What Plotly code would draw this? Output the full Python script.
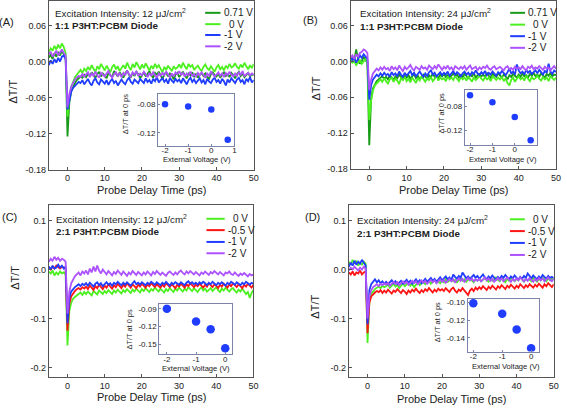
import numpy as np
import plotly.graph_objects as go

W, H = 567, 412
FONT = "Liberation Sans, Arial, sans-serif"

def px(x):
    return x / W

def py(y):
    return 1 - y / H

# ---------------- data ----------------
# probe delay time (ps)
T = np.arange(-5, 50.01, 0.5)

# Delta T / T values, in units of 1e-3
# Panel A : 1:1 diode, 12 uJ/cm2
A_071 = [6, 12, 4, 14, 8, 16, 10, 18, 12, 6,
         -125, -68, -50, -42, -36, -31, -28, -25, -27, -22,
         -26, -20, -24, -18, -23, -27, -21, -17, -25, -20,
         -24, -28, -19, -22, -26, -16, -21, -25, -18, -23,
         -27, -20, -15, -22, -26, -19, -24, -17, -21, -28,
         -22, -18, -25, -20, -16, -23, -27, -19, -22, -17,
         -24, -29, -21, -18, -25, -20, -23, -30, -22, -19,
         -26, -21, -17, -24, -28, -20, -23, -18, -25, -21,
         -27, -22, -19, -24, -20, -26, -29, -21, -18, -23,
         -25, -20, -27, -22, -18, -24, -21, -26, -19, -23,
         -28, -21, -17, -24, -20, -26, -22, -19, -25, -21, -23]
A_0 = [16, 22, 18, 26, 20, 28, 22, 30, 24, 14,
       -92, -58, -42, -32, -26, -22, -18, -14, -19, -12,
       -16, -9, -14, -6, -12, -17, -8, -13, -4, -10,
       -15, -7, -12, -18, -9, -5, -13, -8, -16, -11,
       -6, -12, -2, -9, -14, -4, -10, -1, -8, -13,
       -5, -11, -3, -9, -15, -7, -12, -4, -10, -6,
       -13, -18, -9, -14, -7, -11, -16, -8, -12, -10,
       -5, -11, -2, -8, -13, -4, -9, -6, -14, -10,
       -7, -12, -16, -9, -5, -11, -14, -8, -12, -17,
       -10, -6, -13, -9, -15, -7, -11, -4, -10, -8,
       -3, -9, -12, -5, -10, -2, -8, -13, -6, -11, -4]
A_m1 = [-6, 2, -4, 4, -2, 6, 0, 8, 10, 4,
        -80, -62, -50, -44, -40, -37, -34, -36, -31, -38,
        -33, -29, -36, -40, -32, -28, -35, -38, -30, -34,
        -37, -31, -39, -33, -29, -36, -32, -40, -34, -30,
        -35, -38, -31, -27, -34, -37, -30, -33, -36, -29,
        -32, -36, -28, -34, -31, -37, -29, -33, -26, -35,
        -31, -28, -34, -30, -37, -27, -32, -35, -29, -33,
        -30, -36, -28, -33, -38, -31, -27, -34, -30, -36,
        -32, -28, -35, -31, -38, -29, -33, -36, -30, -27,
        -34, -31, -37, -29, -33, -40, -30, -35, -28, -32,
        -36, -30, -27, -34, -31, -38, -29, -33, -26, -35, -31]
A_m2 = [12, 16, 8, 14, 18, 10, 15, 20, 14, 10,
        -76, -54, -42, -35, -30, -27, -24, -26, -21, -25,
        -22, -18, -26, -20, -24, -17, -23, -27, -19, -22,
        -25, -20, -16, -23, -27, -21, -18, -24, -20, -26,
        -19, -23, -15, -21, -25, -18, -22, -16, -24, -20,
        -23, -17, -21, -26, -19, -24, -18, -22, -27, -20,
        -24, -19, -23, -17, -22, -26, -20, -25, -18, -21,
        -16, -22, -19, -25, -20, -23, -17, -24, -21, -26,
        -19, -23, -18, -22, -27, -20, -24, -17, -21, -25,
        -22, -18, -24, -20, -26, -19, -23, -17, -22, -25,
        -20, -24, -18, -22, -16, -25, -21, -19, -23, -20, -22]

# Panel B : 1:1 diode, 24 uJ/cm2
B_071 = [-2, 6, 2, 20, 4, -4, 0, 8, 2, -2,
         -140, -62, -45, -38, -33, -30, -28, -25, -29, -26,
         -30, -24, -27, -31, -25, -28, -22, -26, -30, -24,
         -27, -23, -29, -25, -21, -28, -24, -30, -26, -22,
         -25, -29, -23, -27, -20, -26, -24, -28, -22, -25,
         -21, -26, -23, -28, -24, -20, -25, -22, -27, -23,
         -26, -21, -24, -29, -22, -25, -20, -27, -23, -21,
         -25, -22, -26, -19, -24, -28, -21, -23, -26, -20,
         -24, -27, -22, -25, -30, -23, -26, -21, -24, -27,
         -22, -26, -20, -25, -23, -27, -21, -24, -19, -25,
         -22, -26, -20, -23, -27, -21, -24, -19, -25, -22, -23]
B_0 = [4, -2, 0, -6, -2, 2, -4, 0, 4, -2,
       -98, -66, -48, -40, -36, -32, -30, -34, -28, -33,
       -37, -30, -27, -34, -29, -32, -38, -28, -31, -26,
       -33, -29, -35, -27, -31, -36, -28, -32, -25, -30,
       -34, -28, -31, -26, -33, -29, -24, -32, -27, -30,
       -28, -33, -25, -30, -27, -31, -24, -29, -33, -26,
       -30, -27, -32, -25, -29, -34, -26, -31, -28, -24,
       -29, -32, -26, -30, -27, -33, -25, -28, -31, -27,
       -30, -26, -33, -28, -36, -40, -31, -27, -34, -29,
       -25, -30, -27, -32, -24, -29, -33, -26, -30, -28,
       -24, -29, -32, -26, -30, -27, -33, -25, -28, -31, -27]
B_m1 = [8, 2, 6, -2, 4, 10, 6, 12, 8, 4,
        -64, -40, -30, -26, -22, -25, -20, -24, -19, -23,
        -21, -26, -18, -23, -20, -25, -17, -22, -26, -19,
        -24, -20, -16, -23, -19, -25, -21, -17, -22, -26,
        -20, -24, -18, -15, -22, -19, -25, -21, -18, -23,
        -19, -22, -17, -24, -20, -16, -23, -18, -21, -25,
        -20, -17, -22, -19, -24, -18, -21, -15, -20, -23,
        -18, -21, -16, -23, -19, -22, -17, -20, -24, -18,
        -21, -16, -19, -23, -18, -12, -20, -17, -22, -5,
        -15, -20, -17, -22, -14, -19, -16, -21, -18, -15,
        -20, -14, -18, -22, -16, -19, -4, -17, -21, -15, -18]
B_m2 = [6, 10, 4, 12, 8, 14, 16, 20, 18, 14,
        -48, -30, -20, -16, -12, -15, -10, -14, -9, -13,
        -11, -16, -8, -13, -10, -15, -7, -12, -16, -9,
        -13, -10, -6, -12, -15, -9, -11, -14, -8, -12,
        -10, -14, -7, -11, -13, -8, -12, -5, -10, -14,
        -9, -12, -7, -13, -10, -15, -8, -11, -13, -9,
        -12, -8, -14, -10, -7, -13, -11, -9, -15, -10,
        -13, -9, -11, -7, -12, -14, -10, -8, -13, -11,
        -9, -12, -15, -10, -8, -13, -11, -14, -9, -12,
        -10, -13, -8, -12, -15, -9, -11, -7, -13, -10,
        -12, -8, -11, -14, -9, -12, -10, -15, -11, -8, -12]

# Panel C : 2:1 diode, 12 uJ/cm2
C_0 = [-4, -8, -2, -12, -6, -10, -4, -8, -6, -10,
       -155, -85, -68, -60, -56, -52, -50, -47, -52, -46,
       -50, -45, -49, -53, -44, -48, -51, -43, -47, -50,
       -44, -48, -42, -46, -50, -43, -47, -41, -45, -49,
       -42, -46, -40, -44, -48, -41, -45, -39, -43, -47,
       -40, -44, -38, -42, -46, -40, -43, -37, -41, -45,
       -39, -43, -47, -40, -44, -38, -42, -46, -39, -43,
       -37, -41, -45, -39, -43, -36, -40, -44, -38, -42,
       -46, -40, -37, -43, -39, -45, -41, -38, -44, -40,
       -36, -42, -46, -39, -43, -37, -41, -45, -40, -38,
       -43, -47, -41, -45, -39, -44, -50, -46, -58, -48, -42]
C_m05 = [4, 0, 6, 2, 8, 4, 2, 6, 4, 2,
         -125, -70, -55, -48, -44, -40, -38, -41, -36, -39,
         -35, -40, -33, -37, -42, -34, -38, -31, -36, -40,
         -33, -37, -30, -35, -39, -32, -36, -29, -34, -38,
         -31, -35, -28, -33, -37, -30, -34, -38, -31, -35,
         -29, -33, -37, -30, -34, -28, -32, -36, -30, -33,
         -37, -31, -35, -28, -32, -36, -30, -34, -38, -31,
         -35, -29, -33, -37, -30, -34, -28, -32, -36, -31,
         -34, -29, -33, -37, -31, -35, -28, -32, -36, -30,
         -33, -38, -31, -35, -29, -33, -37, -30, -34, -28,
         -32, -36, -30, -34, -38, -31, -35, -29, -33, -37, -31]
C_m1 = [6, 0, 8, 2, 4, 10, 4, 8, 2, 6,
        -110, -58, -45, -40, -36, -33, -30, -34, -29, -32,
        -28, -33, -27, -31, -35, -29, -26, -32, -28, -34,
        -30, -26, -31, -28, -33, -27, -30, -25, -29, -32,
        -27, -31, -26, -29, -33, -28, -24, -30, -27, -31,
        -26, -29, -32, -27, -30, -25, -28, -31, -26, -29,
        -32, -27, -30, -25, -29, -33, -27, -30, -26, -28,
        -31, -26, -29, -32, -27, -24, -29, -26, -30, -27,
        -31, -26, -29, -25, -28, -32, -27, -30, -25, -29,
        -32, -27, -30, -26, -29, -33, -27, -30, -25, -28,
        -31, -26, -29, -32, -27, -30, -25, -28, -31, -27, -29]
C_m2 = [16, 22, 18, 26, 20, 24, 18, 22, 20, 16,
        -90, -45, -28, -20, -14, -10, -6, -12, -4, -8,
        -2, -10, 2, -6, 6, -4, 8, -2, -8, 0,
        -6, -10, -3, -8, -12, -5, -9, -2, -7, -11,
        -4, -8, -13, -6, -10, -3, -7, -11, -5, -9,
        -12, -6, -10, -4, -8, -12, -5, -9, -3, -7,
        -11, -6, -9, -13, -7, -4, -8, -11, -6, -10,
        -5, -2, -7, -10, -4, -8, -3, -6, -10, -5,
        -8, -12, -6, -9, -4, -7, -11, -5, -8, -3,
        -7, -10, -5, -9, -12, -6, -8, -4, -9, -11,
        -6, -10, -13, -8, -11, -7, -10, -14, -9, -12, -10]

# Panel D : 2:1 diode, 24 uJ/cm2
D_0 = [16, 10, 20, 12, 18, 8, 14, 10, 16, 12,
       -150, -65, -50, -44, -40, -37, -35, -38, -33, -36,
       -34, -30, -37, -33, -29, -35, -31, -38, -32, -28,
       -34, -30, -27, -33, -29, -36, -30, -26, -32, -28,
       -25, -30, -27, -23, -29, -25, -21, -27, -24, -28,
       -22, -26, -20, -25, -23, -19, -24, -21, -26, -22,
       -18, -23, -20, -25, -21, -17, -22, -26, -20, -23,
       -19, -24, -21, -17, -22, -25, -19, -23, -20, -16,
       -21, -24, -18, -22, -26, -19, -23, -17, -21, -24,
       -19, -22, -16, -21, -25, -18, -22, -20, -24, -17,
       -21, -25, -19, -22, -16, -20, -24, -18, -22, -19, -21]
D_m05 = [-6, -10, -4, -12, -6, -8, -2, -10, -6, -4,
         -130, -68, -55, -50, -47, -44, -46, -42, -48, -43,
         -47, -41, -45, -49, -43, -46, -40, -44, -48, -42,
         -45, -50, -43, -47, -41, -45, -39, -44, -48, -42,
         -46, -40, -44, -38, -43, -47, -41, -45, -39, -43,
         -40, -44, -38, -42, -46, -40, -37, -43, -47, -41,
         -44, -38, -42, -48, -52, -43, -39, -44, -37, -41,
         -36, -40, -34, -38, -42, -35, -39, -33, -37, -41,
         -34, -38, -32, -36, -40, -33, -37, -31, -35, -39,
         -33, -37, -30, -35, -38, -32, -36, -30, -34, -37,
         -31, -35, -29, -33, -37, -30, -34, -28, -32, -36, -30]
D_m1 = [6, 14, 8, 18, 10, 16, 12, 20, 14, 8,
        -112, -42, -30, -24, -20, -26, -22, -28, -24, -29,
        -25, -30, -26, -22, -28, -24, -30, -27, -23, -29,
        -25, -21, -27, -23, -29, -24, -20, -26, -22, -28,
        -23, -19, -25, -21, -17, -23, -19, -25, -20, -16,
        -22, -18, -14, -20, -16, -22, -10, -15, -19, -13,
        -17, -6, -12, -18, -14, -20, -15, -11, -17, -13,
        -19, -15, -10, -16, -20, -14, -18, -12, -17, -21,
        -15, -19, -13, -17, -11, -16, -20, -14, -18, -12,
        -16, -21, -15, -19, -13, -17, -8, -14, -18, -12,
        -16, -20, -14, -18, -11, -15, -19, -13, -17, -15, -18]
D_m2 = [-2, 4, 0, 6, 2, -2, 4, 0, 6, 2,
        -100, -55, -42, -36, -33, -30, -34, -29, -32, -28,
        -31, -27, -33, -29, -25, -30, -26, -32, -28, -24,
        -29, -25, -31, -27, -23, -28, -24, -30, -26, -22,
        -27, -23, -29, -25, -21, -26, -22, -28, -24, -20,
        -25, -21, -27, -23, -19, -24, -20, -26, -22, -18,
        -23, -19, -25, -21, -17, -22, -18, -24, -20, -23,
        -19, -24, -20, -16, -22, -18, -23, -19, -25, -21,
        -17, -22, -18, -24, -20, -16, -21, -25, -19, -23,
        -18, -22, -16, -21, -24, -19, -23, -17, -21, -25,
        -19, -23, -17, -22, -18, -24, -20, -16, -21, -24, -19]

# insets: Delta T/T at 0 ps vs external voltage
V_AB = [-2, -1, 0, 0.71]
INS_A = [-0.0800, -0.0831, -0.0872, -0.1293]
INS_B = [-0.0619, -0.0734, -0.0981, -0.1370]
V_CD = [-2, -1, -0.5, 0]
INS_C = [-0.0900, -0.1117, -0.1245, -0.1570]
INS_D = [-0.1008, -0.1128, -0.1307, -0.1519]

LEG_AB = ["0.71 V", " 0 V", "-1 V", "-2 V"]
LEG_CD = [" 0 V", "-0.5 V", "-1 V", "-2 V"]

C_DKGREEN = "#179a17"
C_GREEN = "#4cf020"
C_RED = "#ff1414"
C_BLUE = "#1f3cff"
C_PURPLE = "#ad52ff"

# ---------------- figure ----------------
fig = go.Figure()

panels = [
    ("x", "y", [A_071, A_0, A_m1, A_m2], [C_DKGREEN, C_GREEN, C_BLUE, C_PURPLE], LEG_AB),
    ("x2", "y2", [B_071, B_0, B_m1, B_m2], [C_DKGREEN, C_GREEN, C_BLUE, C_PURPLE], LEG_AB),
    ("x3", "y3", [C_0, C_m05, C_m1, C_m2], [C_GREEN, C_RED, C_BLUE, C_PURPLE], LEG_CD),
    ("x4", "y4", [D_0, D_m05, D_m1, D_m2], [C_GREEN, C_RED, C_BLUE, C_PURPLE], LEG_CD),
]
for xa, ya, series, cols, names in panels:
    for s, c, n in zip(series, cols, names):
        yv = np.array(s, dtype=float) / 1000.0
        fig.add_trace(go.Scatter(x=T[:len(yv)], y=yv, mode="lines", name=n.strip(),
                                 line=dict(color=c, width=1.8), xaxis=xa, yaxis=ya,
                                 showlegend=False, hoverinfo="skip"))

insets = [("x5", "y5", V_AB, INS_A, 6.5), ("x6", "y6", V_AB, INS_B, 6.5),
          ("x7", "y7", V_CD, INS_C, 8.5), ("x8", "y8", V_CD, INS_D, 8.5)]
for xa, ya, xv, yv, ms in insets:
    fig.add_trace(go.Scatter(x=xv, y=yv, mode="markers", xaxis=xa, yaxis=ya,
                             marker=dict(color=C_BLUE, size=ms), showlegend=False,
                             hoverinfo="skip"))

FRAME = "#555555"
IFRAME = "#7c83a8"

def main_x(domain, anchor):
    return dict(domain=domain, anchor=anchor, range=[-5, 50],
                tickvals=[0, 10, 20, 30, 40, 50], ticktext=["0", "10", "20", "30", "40", "50"],
                showline=True, mirror=True, linecolor=FRAME, linewidth=1,
                ticks="inside", ticklen=3, tickcolor=FRAME, showgrid=False, zeroline=False,
                tickfont=dict(size=9, family=FONT, color="#222"))

def main_y(domain, anchor, rng, tv, tt):
    return dict(domain=domain, anchor=anchor, range=rng, tickvals=tv, ticktext=tt,
                showline=True, mirror=True, linecolor=FRAME, linewidth=1,
                ticks="inside", ticklen=3, tickcolor=FRAME, showgrid=False, zeroline=False,
                tickfont=dict(size=9, family=FONT, color="#222"))

def ins_x(domain, anchor, rng, tv):
    return dict(domain=domain, anchor=anchor, range=rng, tickvals=tv,
                ticktext=[("-" if v < 0 else "") + str(abs(int(v))) for v in tv],
                showline=True, mirror=True, linecolor=IFRAME, linewidth=1,
                ticks="inside", ticklen=2, tickcolor=IFRAME, showgrid=False, zeroline=False,
                ticklabelstandoff=-3,
                tickfont=dict(size=8, family=FONT, color="#222"))

def ins_y(domain, anchor, rng, tv, tt):
    return dict(domain=domain, anchor=anchor, range=rng, tickvals=tv, ticktext=tt,
                showline=True, mirror=True, linecolor=IFRAME, linewidth=1,
                ticks="inside", ticklen=2, tickcolor=IFRAME, showgrid=False, zeroline=False,
                tickfont=dict(size=8, family=FONT, color="#222"))

AB_tv = [0.06, 0.0, -0.06, -0.12, -0.18]
AB_tt = ["0.06", "0.00", "-0.06", "-0.12", "-0.18"]
CD_tv = [0.1, 0.0, -0.1, -0.2]
CD_tt = ["0.1", "0.0", "-0.1", "-0.2"]

dA_x = [px(49.3), px(256)]
dA_y = [py(171), py(0.5)]
dB_x = [px(353.7), px(561)]
dB_y = [py(170.7), py(0.5)]
dC_x = [px(49.3), px(255.7)]
dC_y = [py(381.7), py(207)]
dD_x = [px(352), px(558.7)]
dD_y = [py(381.7), py(207)]

fig.update_layout(
    width=W, height=H, margin=dict(l=0, r=0, t=0, b=0),
    paper_bgcolor="white", plot_bgcolor="white", showlegend=False,
    font=dict(family=FONT, color="#222"),
    xaxis=main_x(dA_x, "y"), yaxis=main_y(dA_y, "x", [-0.18, 0.1], AB_tv, AB_tt),
    xaxis2=main_x(dB_x, "y2"), yaxis2=main_y(dB_y, "x2", [-0.18, 0.1], AB_tv, AB_tt),
    xaxis3=main_x(dC_x, "y3"), yaxis3=main_y(dC_y, "x3", [-0.22, 0.132], CD_tv, CD_tt),
    xaxis4=main_x(dD_x, "y4"), yaxis4=main_y(dD_y, "x4", [-0.22, 0.132], CD_tv, CD_tt),
    xaxis5=ins_x([px(159.5), px(236.5)], "y5", [-2.3, 1.0], [-2, -1, 0, 1]),
    yaxis5=ins_y([py(147), py(94)], "x5", [-0.138, -0.065], [-0.08, -0.12], ["-0.08", "-0.12"]),
    xaxis6=ins_x([px(469), px(541.7)], "y6", [-2.23, 0.99], [-2, -1, 0, 1]),
    yaxis6=ins_y([py(146), py(90.7)], "x6", [-0.1447, -0.0537], [-0.08, -0.12], ["-0.08", "-0.12"]),
    xaxis7=ins_x([px(160.7), px(234.3)], "y7", [-2.26, 0.24], [-2, -1, 0]),
    yaxis7=ins_y([py(358.3), py(307.7)], "x7", [-0.1667, -0.0823], [-0.09, -0.12, -0.15],
                 ["-0.09", "-0.12", "-0.15"]),
    xaxis8=ins_x([px(471.7), px(544)], "y8", [-2.2, 0.28], [-2, -1, 0]),
    yaxis8=ins_y([py(355.7), py(302.3)], "x8", [-0.1557, -0.0958], [-0.10, -0.12, -0.14],
                 ["-0.10", "-0.12", "-0.14"]),
)

ann = []
def text(x, y, s, size, xanchor="left", angle=0, bold=False):
    ann.append(dict(x=px(x), y=py(y), xref="paper", yref="paper", text=("<b>%s</b>" % s) if bold else s,
                    showarrow=False, xanchor=xanchor, yanchor="middle", textangle=angle,
                    font=dict(size=size, family=FONT, color="#222")))

# panel letters
text(7, 21, "(A)", 11, "center")
text(313, 19, "(B)", 11, "center")
text(10, 219, "(C)", 11, "center")
text(315, 219, "(D)", 11, "center")
# y titles
text(13, 92, "ΔT/T", 11, "center", -90)
text(318.5, 89, "ΔT/T", 11, "center", -90)
text(15, 281, "ΔT/T", 11, "center", -90)
text(318, 310, "ΔT/T", 11, "center", -90)
# x titles
text(152.5, 192, "Probe Delay Time (ps)", 11, "center")
text(457.5, 192, "Probe Delay Time (ps)", 11, "center")
text(152.5, 402, "Probe Delay Time (ps)", 11, "center")
text(455.7, 404, "Probe Delay Time (ps)", 11, "center")
# descriptions
text(53, 12.5, "Excitation Intensity: 12 μJ/cm<sup>2</sup>", 9.8)
text(53, 25, "1:1 P3HT:PCBM Diode", 9.8, bold=True)
text(361, 12.5, "Excitation Intensity: 24 μJ/cm<sup>2</sup>", 9.8)
text(361, 26, "1:1 P3HT:PCBM Diode", 9.8, bold=True)
text(54, 221, "Excitation Intensity: 12 μJ/cm<sup>2</sup>", 9.8)
text(54, 233.5, "2:1 P3HT:PCBM Diode", 9.8, bold=True)
text(358.5, 222, "Excitation Intensity: 24 μJ/cm<sup>2</sup>", 9.8)
text(358.5, 236, "2:1 P3HT:PCBM Diode", 9.8, bold=True)
# inset titles
text(198.3, 161, "External Voltage (V)", 7.6, "center")
text(507.5, 160.5, "External Voltage (V)", 7.6, "center")
text(197.5, 372.5, "External Voltage (V)", 7.6, "center")
text(510, 370.5, "External Voltage (V)", 7.6, "center")
text(126, 115, "ΔT/T at 0 ps", 7.4, "center", -90)
text(445, 114, "ΔT/T at 0 ps", 7.4, "center", -90)
text(130.5, 333, "ΔT/T at 0 ps", 7.4, "center", -90)
text(441, 326, "ΔT/T at 0 ps", 7.4, "center", -90)

# legends (drawn manually)
shapes = []
legends = [
    (207, 222.5, 224, [12, 23.5, 34.5, 46], LEG_AB, [C_DKGREEN, C_GREEN, C_BLUE, C_PURPLE]),
    (514.7, 529.7, 531, [12, 24, 35.7, 47.5], LEG_AB, [C_DKGREEN, C_GREEN, C_BLUE, C_PURPLE]),
    (208.3, 226.7, 228, [221, 232.5, 244.5, 256], LEG_CD, [C_GREEN, C_RED, C_BLUE, C_PURPLE]),
    (514.5, 529.5, 531, [221.5, 233.5, 245.5, 257.7], LEG_CD, [C_GREEN, C_RED, C_BLUE, C_PURPLE]),
]
for x0, x1, xt, rows, names, cols in legends:
    for yy, n, c in zip(rows, names, cols):
        shapes.append(dict(type="line", xref="paper", yref="paper", x0=px(x0), x1=px(x1),
                           y0=py(yy), y1=py(yy), line=dict(color=c, width=2)))
        text(xt + (5 if n.startswith(" ") else 0), yy, n.strip(), 10)

fig.update_layout(annotations=ann, shapes=shapes)
fig.write_html("out.html", config={"displayModeBar": False},
               post_script="document.body.style.margin='0px';")
